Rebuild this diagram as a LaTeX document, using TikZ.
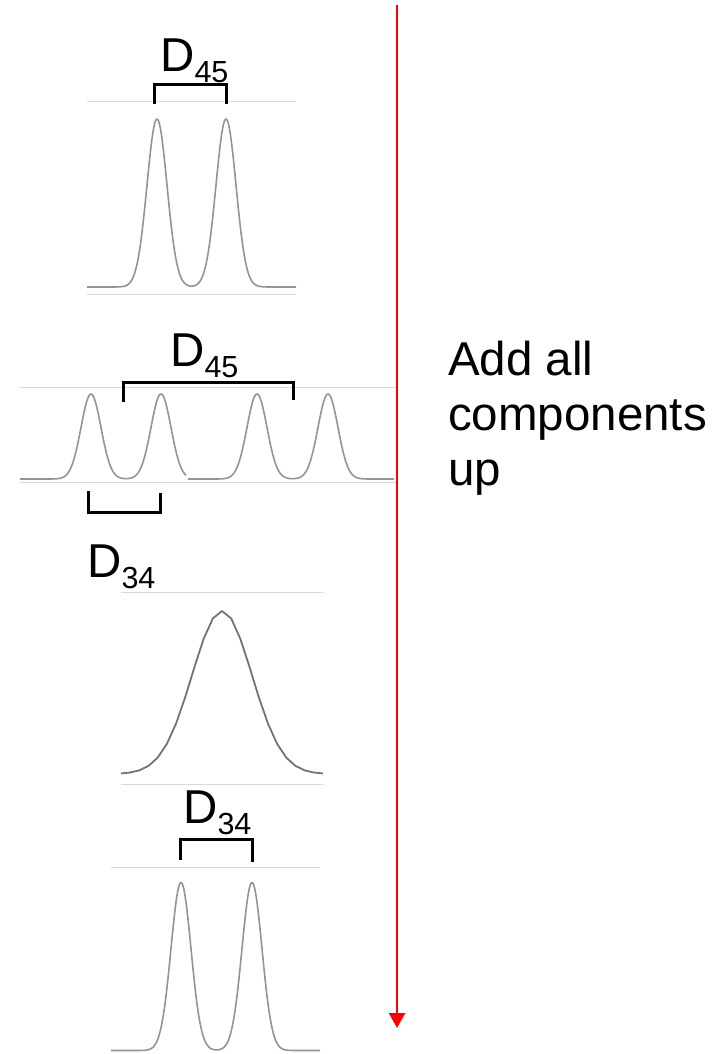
\documentclass[tikz,border=0pt]{standalone}
\usepackage{fontspec}
\setmainfont{Liberation Sans}
\usetikzlibrary{arrows.meta}
\pgfmathdeclarefunction{gs}{3}{\pgfmathparse{exp(-min(((#1-#2)/#3)^2/2,15))}}
\tikzset{
  guide/.style={draw=black!15, line width=1pt},
  curve/.style={draw=black!42, line width=1.6pt, line join=round},
  darkcurve/.style={draw=black!55, line width=1.8pt, line join=round},
  bracket/.style={draw=black, line width=3pt, line cap=rect},
  bigD/.style={inner sep=0pt, anchor=base west},
  redarrow/.style={draw=red, line width=2.5pt, -{Triangle[length=15pt,width=16pt]}},
}
\newcommand{\dlabel}[1]{{\fontsize{47.5}{50}\selectfont D}\raisebox{-11pt}{\fontsize{30.5}{32}\selectfont #1}}
\begin{document}
\begin{tikzpicture}[x=1pt,y=-1pt]
\useasboundingbox (0,0) rectangle (725,1054);
% red arrow
\coordinate (atop) at (397,5);
\coordinate (abot) at (397,1028);
\draw[redarrow] (atop) -- (abot);
% text
\node[inner sep=0pt, anchor=base west] (txt) at (448,375)
  {\parbox[t]{275pt}{\fontsize{47.5}{55}\selectfont\raggedright Add all\\components\\up}};
% ---------- panel 1
\draw[guide] (87,102) -- (296,102);
\draw[guide] (87,294) -- (296,294);
\draw[curve] plot[domain=87:296, samples=220] (\x,{287-168*(gs(\x,157,10)+gs(\x,226,10))});
\draw[bracket] (154,103) -- (154,85) -- (226,85) -- (226,103);
\node[bigD] (l1) at (160,72) {\dlabel{45}};
% ---------- panel 2
\draw[guide] (20,387) -- (396,387);
\draw[guide] (20,482) -- (396,482);
\draw[curve] plot[domain=20:186, samples=180] (\x,{479-85*(gs(\x,91,10)+gs(\x,161,10))});
\draw[curve] plot[domain=188:394, samples=200] (\x,{479-85*(gs(\x,257,10)+gs(\x,328,10))});
\draw[bracket] (123,400) -- (123,382) -- (293,382) -- (293,398);
\node[bigD] (l2) at (170,366) {\dlabel{45}};
\draw[bracket] (88,492) -- (88,512) -- (160,512) -- (160,494);
\node[bigD] (l3) at (87,577) {\dlabel{34}};
% ---------- panel 3
\draw[guide] (121,592) -- (323,592);
\draw[guide] (121,784) -- (323,784);
\draw[darkcurve] plot[domain=121:323, samples=23] (\x,{774-163*gs(\x,222,30)});
% ---------- panel 4
\draw[guide] (111,867) -- (320,867);
\draw[curve] plot[domain=111:320, samples=220] (\x,{1050.5-168*(gs(\x,181,10)+gs(\x,252,10))});
\draw[bracket] (180,858) -- (180,839) -- (252,839) -- (252,860);
\node[bigD] (l4) at (183,823) {\dlabel{34}};
\end{tikzpicture}
\end{document}
